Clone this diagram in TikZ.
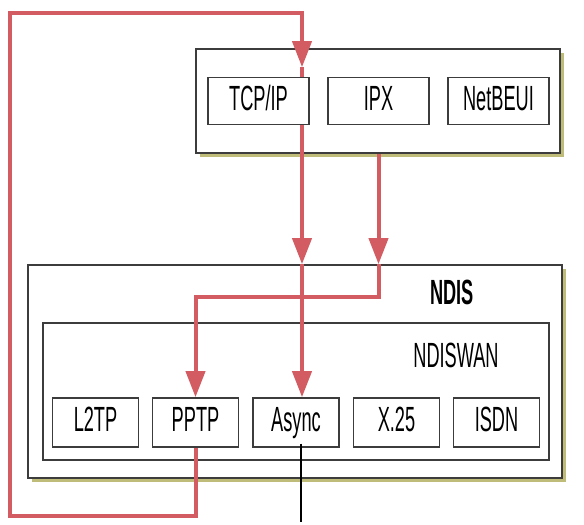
\documentclass[tikz,border=0pt]{standalone}
\usepackage{fontspec}
\setmainfont{Liberation Sans}[FakeStretch=0.52]
\usetikzlibrary{positioning,arrows.meta,calc,shadows}
\definecolor{wirered}{RGB}{210,92,98}
\definecolor{edgegray}{RGB}{60,60,60}
\definecolor{shadeolive}{RGB}{190,188,120}
\tikzset{dart/.tip={Triangle[length=26pt 0,width=19pt 0]}}

\begin{document}
\begin{tikzpicture}[x=1pt,y=-1pt,
  layer/.style={draw=edgegray, line width=1.6pt, fill=white, inner sep=0pt,
    drop shadow={shadow xshift=4pt, shadow yshift=-4pt, fill=shadeolive, opacity=1}},
  frame/.style={draw=edgegray, line width=1.6pt, fill=white, inner sep=0pt},
  proto/.style={draw=edgegray, line width=1.6pt, fill=white, inner sep=0pt,
    minimum width=101pt, minimum height=47pt, text height=25pt, text depth=7pt,
    font=\fontsize{35}{38}\selectfont},
  link/.style={proto, minimum width=86pt, minimum height=49pt},
  title/.style={font=\fontsize{35}{38}\selectfont},
  wire/.style={draw=wirered, line width=4pt},
  feedline/.style={draw=black, line width=1.2pt}]
\useasboundingbox (0,0) rectangle (584,525);

\node[layer, minimum width=364pt, minimum height=104pt] (stack) at (378,101) {};
\node[proto] (tcpip) at (258.5,101) {TCP/IP};
\node[proto] (ipx) at (378.5,101) {IPX};
\node[proto] (netbeui) at (498.5,101) {NetBEUI};

\node[layer, minimum width=534pt, minimum height=213pt] (ndis) at (295,371.5) {};
\node[title, font=\fontsize{35}{38}\selectfont\bfseries] (ndislabel) at (452,292) {NDIS};
\node[frame, minimum width=506pt, minimum height=137pt] (ndiswan) at (296,391.5) {};
\node[title] (ndiswanlabel) at (456,355) {NDISWAN};

\node[link] (l2tp) at (95.5,422.5) {L2TP};
\node[link] (pptp) at (195.5,422.5) {PPTP};
\node[link] (async) at (296,422.5) {Async};
\node[link] (x25) at (396.5,422.5) {X.25};
\node[link] (isdn) at (496.5,422.5) {ISDN};

\coordinate (loopsw) at (10,516);
\coordinate (tcpdrop) at (302,13);
\coordinate (feed) at (301,522);

\draw[wire, -{dart}] (pptp.south) |- (loopsw) |- (tcpdrop) -- ($(tcpdrop |- stack.north)+(0,19)$);
\draw[wire] ($(tcpdrop |- stack.north)+(0,19)$) -- (tcpdrop |- tcpip.north);
\draw[wire, -{dart}] (tcpdrop |- tcpip.south) -- (tcpdrop |- ndis.north);
\draw[wire, -{dart}] (tcpdrop |- ndis.north) -- (tcpdrop |- async.north);
\draw[wire, -{dart}] (ipx.south |- stack.south) -- (ipx.south |- ndis.north);
\draw[wire, -{dart}] (ipx.south |- ndis.north) -- ++(0,33) -| (pptp.north);
\draw[feedline] ($(feed |- async.base)+(0,12)$) -- (feed);
\end{tikzpicture}
\end{document}
